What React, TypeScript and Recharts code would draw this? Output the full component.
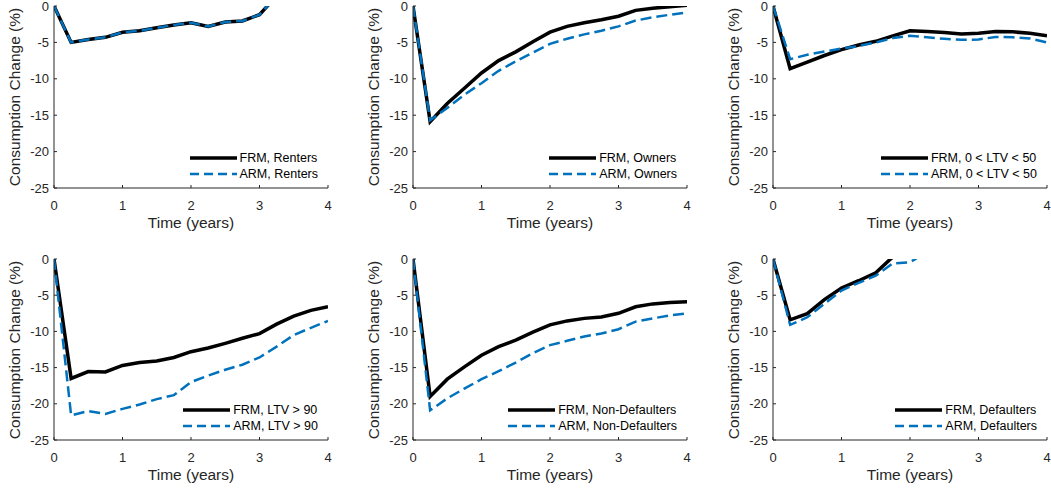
import React from "react";
import { Line, LineChart, XAxis, YAxis } from "recharts";

// quarterly time grid, years
const TIME = [0, 0.25, 0.5, 0.75, 1, 1.25, 1.5, 1.75, 2, 2.25, 2.5, 2.75, 3, 3.25, 3.5, 3.75, 4];
const X_TICKS = [0, 1, 2, 3, 4];
const Y_TICKS = [-25, -20, -15, -10, -5, 0];

// consumption change (%); values above 0 get clipped by the axis
const RENTERS_FRM = [0, -5.0, -4.6, -4.3, -3.6, -3.4, -3.0, -2.6, -2.3, -2.8, -2.2, -2.05, -1.2, 1.4, null, null, null];
const RENTERS_ARM = [0, -5.0, -4.6, -4.3, -3.6, -3.4, -3.0, -2.6, -2.3, -2.8, -2.2, -2.05, -1.2, 1.4, null, null, null];
const OWNERS_FRM = [0, -15.9, -13.4, -11.3, -9.2, -7.5, -6.3, -4.9, -3.6, -2.8, -2.3, -1.9, -1.4, -0.6, -0.3, -0.1, 0.1];
const OWNERS_ARM = [0, -15.7, -14.0, -12.2, -10.6, -8.9, -7.6, -6.4, -5.2, -4.5, -3.9, -3.4, -2.8, -2.0, -1.55, -1.2, -0.9];
const LOWLTV_FRM = [0, -8.6, -7.7, -6.8, -6.0, -5.35, -4.85, -4.1, -3.4, -3.5, -3.65, -3.85, -3.75, -3.5, -3.55, -3.75, -4.1];
const LOWLTV_ARM = [0, -7.3, -6.7, -6.25, -5.85, -5.5, -5.0, -4.4, -4.1, -4.3, -4.5, -4.65, -4.6, -4.25, -4.3, -4.45, -5.0];
const HIGHLTV_FRM = [0, -16.5, -15.55, -15.6, -14.7, -14.3, -14.1, -13.6, -12.8, -12.3, -11.65, -10.95, -10.3, -9.0, -7.9, -7.1, -6.6];
const HIGHLTV_ARM = [0, -21.6, -21.0, -21.4, -20.7, -20.1, -19.35, -18.8, -17.0, -16.1, -15.3, -14.6, -13.6, -12.1, -10.5, -9.5, -8.55];
const NONDEF_FRM = [0, -19.0, -16.6, -14.9, -13.3, -12.1, -11.2, -10.1, -9.1, -8.55, -8.2, -8.0, -7.5, -6.6, -6.2, -6.0, -5.9];
const NONDEF_ARM = [0, -20.9, -19.25, -17.9, -16.6, -15.5, -14.3, -13.0, -11.9, -11.3, -10.7, -10.3, -9.7, -8.65, -8.2, -7.8, -7.5];
const DEF_FRM = [0, -8.4, -7.55, -5.6, -4.0, -3.0, -1.9, 0.3, null, null, null, null, null, null, null, null, null];
const DEF_ARM = [0, -9.1, -8.05, -6.2, -4.35, -3.3, -2.3, -0.6, -0.45, 1.0, null, null, null, null, null, null, null];

const FONT = "'Liberation Sans', Arial, sans-serif";
const AX = "#262626";
const BLUE = "#0072BD";
const TICK = 3;

const W = 340;
const PL = 54;
const PW = 274;
const PT = 6;
const XH = 56;

function BottomTick(p: any) {
  const { x, y, payload } = p;
  return (
    <g>
      <line x1={x} x2={x} y1={y} y2={y - TICK} stroke={AX} />
      <text x={x} y={y + 21.5} textAnchor="middle" fontSize={13} fill={AX} fontFamily={FONT}>
        {payload.value}
      </text>
    </g>
  );
}
function TopTick(p: any) {
  const { x, y } = p;
  return <line x1={x} x2={x} y1={y} y2={y + TICK} stroke={AX} />;
}
function LeftTick(p: any) {
  const { x, y, payload } = p;
  return (
    <g>
      <line x1={x} x2={x + TICK} y1={y} y2={y} stroke={AX} />
      <text x={x - 5} y={y + 4.6} textAnchor="end" fontSize={13} fill={AX} fontFamily={FONT}>
        {payload.value}
      </text>
    </g>
  );
}
function RightTick(p: any) {
  const { x, y } = p;
  return <line x1={x} x2={x - TICK} y1={y} y2={y} stroke={AX} />;
}

function LegendRow({ label, dashed }: { label: string; dashed?: boolean }) {
  return (
    <div style={{ display: "flex", alignItems: "center", height: 16 }}>
      <svg width={47} height={8} style={{ display: "block" }}>
        <line
          x1={0}
          x2={47}
          y1={4}
          y2={4}
          stroke={dashed ? BLUE : "#000"}
          strokeWidth={dashed ? 2.5 : 3.5}
          strokeDasharray={dashed ? "9 5" : undefined}
        />
      </svg>
      <span style={{ marginLeft: 3, fontSize: 12.5, color: "#000", whiteSpace: "nowrap" }}>{label}</span>
    </div>
  );
}

function Panel({ left, top, plotH, frm, arm, name }: any) {
  const height = PT + plotH + XH;
  const data = TIME.map((t, i) => ({ t, frm: frm[i], arm: arm[i] }));
  return (
    <div style={{ position: "absolute", left, top, width: W, height }}>
      <LineChart width={W} height={height} data={data} margin={{ top: PT, right: W - PL - PW, bottom: 0, left: 0 }}>
        <XAxis dataKey="t" type="number" domain={[0, 4]} ticks={X_TICKS} interval={0} allowDataOverflow
          height={XH} tickSize={0} tickMargin={0} tickLine={false} tick={BottomTick} stroke={AX} />
        <XAxis xAxisId="top" orientation="top" dataKey="t" type="number" domain={[0, 4]} ticks={X_TICKS} interval={0}
          allowDataOverflow height={0} tickSize={0} tickMargin={0} tickLine={false} tick={TopTick} stroke={AX} />
        <YAxis type="number" domain={[-25, 0]} ticks={Y_TICKS} interval={0} allowDataOverflow
          width={PL} tickSize={0} tickMargin={0} tickLine={false} tick={LeftTick} stroke={AX} />
        <YAxis yAxisId="right" orientation="right" type="number" domain={[-25, 0]} ticks={Y_TICKS} interval={0}
          allowDataOverflow width={0} tickSize={0} tickMargin={0} tickLine={false} tick={RightTick} stroke={AX} />
        <Line dataKey="frm" stroke="#000" strokeWidth={3.5} dot={false} activeDot={false} isAnimationActive={false} />
        <Line dataKey="arm" stroke={BLUE} strokeWidth={2.5} strokeDasharray="11 5" dot={false} activeDot={false}
          isAnimationActive={false} />
      </LineChart>
      <div style={{ position: "absolute", left: PL, top: PT + plotH + 26, width: PW, textAlign: "center",
        fontSize: 15.5, lineHeight: "18px", color: AX }}>
        Time (years)
      </div>
      <div style={{ position: "absolute", left: 15 - 100, top: PT + plotH / 2 - 9, width: 200, height: 18,
        textAlign: "center", fontSize: 15.5, lineHeight: "18px", color: AX, transform: "rotate(-90deg)",
        transformOrigin: "center", whiteSpace: "nowrap" }}>
        Consumption Change (%)
      </div>
      <div style={{ position: "absolute", right: W - PL - PW + 10, top: PT + plotH - 38 }}>
        <LegendRow label={`FRM, ${name}`} />
        <LegendRow label={`ARM, ${name}`} dashed />
      </div>
    </div>
  );
}

export default function App() {
  return (
    <div style={{ position: "absolute", left: 0, top: 0, width: 1051, height: 492, overflow: "hidden",
      background: "#fff", fontFamily: FONT }}>
      <Panel left={0} top={0} plotH={182} frm={RENTERS_FRM} arm={RENTERS_ARM} name="Renters" />
      <Panel left={359} top={0} plotH={182} frm={OWNERS_FRM} arm={OWNERS_ARM} name="Owners" />
      <Panel left={719} top={0} plotH={182} frm={LOWLTV_FRM} arm={LOWLTV_ARM} name="0 < LTV < 50" />
      <Panel left={0} top={253} plotH={181} frm={HIGHLTV_FRM} arm={HIGHLTV_ARM} name="LTV > 90" />
      <Panel left={359} top={253} plotH={181} frm={NONDEF_FRM} arm={NONDEF_ARM} name="Non-Defaulters" />
      <Panel left={719} top={253} plotH={181} frm={DEF_FRM} arm={DEF_ARM} name="Defaulters" />
    </div>
  );
}
